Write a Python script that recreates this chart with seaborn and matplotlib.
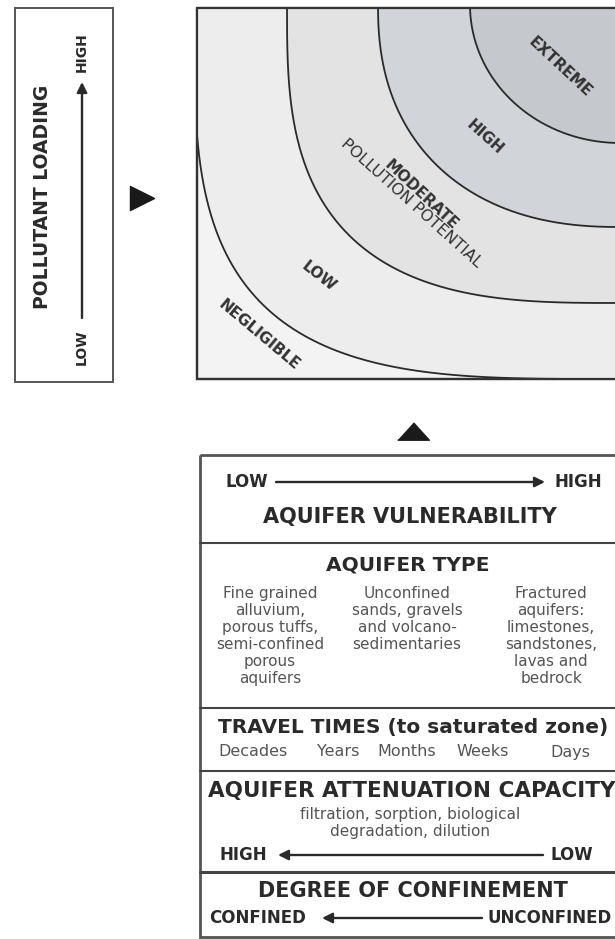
import matplotlib
matplotlib.use("Agg")
import matplotlib.pyplot as plt
import numpy as np
import seaborn as sns
from matplotlib.patches import Rectangle, Polygon

# ---- data -------------------------------------------------------------
zone_labels = ["NEGLIGIBLE", "LOW", "MODERATE", "HIGH", "EXTREME"]
zone_greys = ["#f3f3f3", "#ededed", "#e3e3e3", "#d1d4d8", "#c5c8cc"]
# zone boundaries: semi-axes (px) and superellipse exponent, outermost first
boundary_a = [426, 333, 242, 150]
boundary_b = [374, 298, 222, 138]
boundary_n = [3.5, 3.0, 2.3, 2.0]

aquifer_types = [
    ["Fine grained", "alluvium,", "porous tuffs,", "semi-confined", "porous", "aquifers"],
    ["Unconfined", "sands, gravels", "and volcano-", "sedimentaries"],
    ["Fractured", "aquifers:", "limestones,", "sandstones,", "lavas and", "bedrock"],
]
travel_times = ["Decades", "Years", "Months", "Weeks", "Days"]

sns.set_theme(style="white")
plt.rcParams["font.family"] = ["DejaVu Sans"]

W, H = 615, 939
fig = plt.figure(figsize=(W / 100, H / 100), dpi=100)
ax = fig.add_axes([0, 0, 1, 1])
ax.set_xlim(0, W)
ax.set_ylim(H, 0)
ax.axis("off")

ink = "#2a2a2a"
grey_txt = "#555555"

def arrow(x0, y0, x1, y1, lw=1.7):
    ax.annotate("", xy=(x1, y1), xytext=(x0, y0),
                arrowprops=dict(arrowstyle="-|>", lw=lw, color=ink,
                                mutation_scale=15, shrinkA=0, shrinkB=0))

# ---- left box: pollutant loading --------------------------------------
ax.add_patch(Rectangle((15, 8), 98, 374, fill=False, ec="#555555", lw=1.4))
ax.text(43, 197, "POLLUTANT LOADING", rotation=90, ha="center", va="center",
        fontsize=13.5, fontweight="bold", color=ink)
arrow(82, 318, 82, 82)
ax.text(82, 347, "LOW", rotation=90, ha="center", va="center",
        fontsize=10, fontweight="bold", color=ink)
ax.text(82, 52, "HIGH", rotation=90, ha="center", va="center",
        fontsize=10, fontweight="bold", color=ink)
ax.scatter([142], [198], marker=">", s=300, color="#1a1a1a", zorder=5)

# ---- main panel: pollution potential ------------------------------------
panel = Rectangle((197, 8), 440, 371, facecolor=zone_greys[0],
                  edgecolor="#333333", lw=1.6, zorder=1)
ax.add_patch(panel)
cx, cy = 620, 5
t = np.linspace(0, np.pi / 2, 400)
for i, (a, b, n) in enumerate(zip(boundary_a, boundary_b, boundary_n)):
    xs = cx - a * np.cos(t) ** (2 / n)
    ys = cy + b * np.sin(t) ** (2 / n)
    poly = Polygon(np.column_stack([np.r_[xs, cx + 20], np.r_[ys, cy - 20]]),
                   closed=True, facecolor=zone_greys[i + 1], edgecolor="none", zorder=2)
    ax.add_patch(poly)
    poly.set_clip_path(panel)
    line, = ax.plot(xs, ys, color=ink, lw=1.3, zorder=3)
    line.set_clip_path(panel)
ax.add_patch(Rectangle((197, 8), 440, 371, fill=False, ec="#333333", lw=1.6, zorder=4))

label_pos = [(259, 335, -40), (319, 276, -38), (421, 195, -43), (485, 137, -42), (560, 67, -43)]
for lab, (x, y, r) in zip(zone_labels, label_pos):
    ax.text(x, y, lab, rotation=r, ha="center", va="center", fontsize=11,
            fontweight="bold", color="#333333", zorder=5)
ax.text(411, 203, "POLLUTION POTENTIAL", rotation=-42, ha="center", va="center",
        fontsize=11.5, color="#333333", zorder=5)

tri_up = [(-1, -0.55), (1, -0.55), (0, 0.55)]
ax.scatter([413], [431], marker=tri_up, s=520, color="#1a1a1a", zorder=5)

# ---- bottom table --------------------------------------------------------
x0, x1 = 200, 640
rows = [455, 543, 708, 771, 872, 937]
ax.add_patch(Rectangle((x0, rows[0]), x1 - x0, rows[-1] - rows[0], fill=False,
                       ec="#555555", lw=2.0))
for y in rows[1:-1]:
    ax.plot([x0, x1], [y, y], color="#444444", lw=2.2 if y == 872 else 1.5)

bold = dict(fontweight="bold", color=ink, ha="center", va="center")
ax.text(247, 482, "LOW", fontsize=12, **bold)
arrow(276, 482, 545, 482)
ax.text(578, 482, "HIGH", fontsize=12, **bold)
ax.text(410, 517, "AQUIFER VULNERABILITY", fontsize=15, **bold)

ax.text(408, 565, "AQUIFER TYPE", fontsize=14.5, **bold)
for xc, lines in zip([270, 407, 551], aquifer_types):
    ax.text(xc, 586, "\n".join(lines), ha="center", va="top", fontsize=11,
            color=grey_txt, linespacing=1.17)

ax.text(413, 727, "TRAVEL TIMES (to saturated zone)", fontsize=14.5, **bold)
for xc, lab in zip([253, 338, 407, 483, 570], travel_times):
    ax.text(xc, 752, lab, ha="center", va="center", fontsize=11.5, color=grey_txt)

ax.text(412, 791, "AQUIFER ATTENUATION CAPACITY", fontsize=15.5, **bold)
ax.text(410, 823, "filtration, sorption, biological\ndegradation, dilution",
        ha="center", va="center", fontsize=11, color=grey_txt, linespacing=1.1)
ax.text(243, 855, "HIGH", fontsize=12, **bold)
arrow(543, 855, 278, 855)
ax.text(572, 855, "LOW", fontsize=12, **bold)

ax.text(413, 891, "DEGREE OF CONFINEMENT", fontsize=15, **bold)
ax.text(258, 918, "CONFINED", fontsize=12, **bold)
arrow(482, 918, 322, 918)
ax.text(550, 918, "UNCONFINED", fontsize=12, **bold)

fig.savefig("out.png", dpi=100, facecolor="white")
